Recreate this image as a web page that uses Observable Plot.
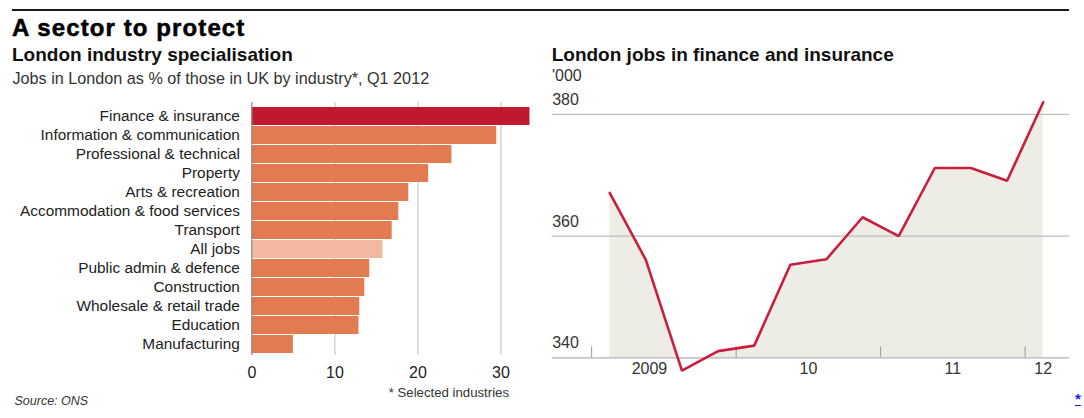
<!DOCTYPE html>
<html>
<head>
<meta charset="utf-8">
<script src="https://cdn.jsdelivr.net/npm/d3@7"></script>
<script src="https://cdn.jsdelivr.net/npm/@observablehq/plot@0.6"></script>
<style>
  html, body { margin: 0; padding: 0; background: #fff; }
  #wrap { position: relative; width: 1084px; height: 418px; overflow: hidden; font-family: "Liberation Sans", Arial, sans-serif; color: #222; }
  .t { position: absolute; white-space: nowrap; line-height: 1; }
  #rule { position: absolute; left: 12px; top: 8.5px; width: 1057px; height: 2.3px; background: #1a1a1a; }
  #title { left: 12px; top: 15.5px; font-size: 24px; font-weight: 700; letter-spacing: 1.1px; -webkit-text-stroke: 0.5px #000; color: #000; }
  .sub { top: 45px; font-size: 19px; font-weight: 700; color: #111; }
  #desc { left: 12.5px; top: 69.6px; font-size: 16.2px; color: #333; }
  #unit { left: 552px; top: 68.2px; font-size: 16px; color: #333; }
  #source { left: 14.5px; top: 394.8px; font-size: 12.5px; font-style: italic; color: #333; }
  #note { right: 575px; top: 385.6px; font-size: 13.2px; color: #333; }
  #star { left: 1075px; top: 391px; font-size: 15px; font-weight: 700; color: #1a1aff; text-decoration: underline; }
  #left { position: absolute; left: 0; top: 95px; }
  #right { position: absolute; left: 540px; top: 90px; }
</style>
</head>
<body>
<div id="wrap">
  <div id="rule"></div>
  <div class="t" id="title">A sector to protect</div>
  <div class="t sub" style="left:12px">London industry specialisation</div>
  <div class="t" id="desc">Jobs in London as % of those in UK by industry*, Q1 2012</div>
  <div class="t sub" style="left:551.7px">London jobs in finance and insurance</div>
  <div class="t" id="unit">'000</div>
  <div class="t" id="source">Source: ONS</div>
  <div class="t" id="note">* Selected industries</div>
  <div class="t" id="star">*</div>
  <div id="left"></div>
  <div id="right"></div>
</div>
<script>
// ---- Left chart data: London jobs as % of UK, Q1 2012 ----
const industries = [
  "Finance & insurance",
  "Information & communication",
  "Professional & technical",
  "Property",
  "Arts & recreation",
  "Accommodation & food services",
  "Transport",
  "All jobs",
  "Public admin & defence",
  "Construction",
  "Wholesale & retail trade",
  "Education",
  "Manufacturing"
];
const shares = [33.5, 29.5, 24.1, 21.3, 18.9, 17.7, 16.9, 15.8, 14.2, 13.6, 13.0, 12.9, 5.0];
const highlighted = "Finance & insurance";
const benchmark = "All jobs";
const shareTicks = [0, 10, 20, 30];

// ---- Right chart data: London finance & insurance jobs ('000), quarterly ----
const quarters = ["2009 Q1","2009 Q2","2009 Q3","2009 Q4","2010 Q1","2010 Q2","2010 Q3","2010 Q4","2011 Q1","2011 Q2","2011 Q3","2011 Q4","2012 Q1"];
const jobs = [367.1, 356.1, 337.9, 341.1, 342.0, 355.3, 356.2, 363.1, 360.0, 371.2, 371.2, 369.1, 382.0];
const yearTicks = [2009, 2010, 2011, 2012];
const yearLabels = ["2009", "10", "11", "12"];
const yearLabelPos = [2009.40, 2010.50, 2011.50, 2012.125];
const jobTicks = [340, 360, 380];

const barData = industries.map((name, i) => ({name, value: shares[i]}));
const barColor = d => d.name === highlighted ? "#c0182f" : d.name === benchmark ? "#f2b9a0" : "#e27b50";

const font = '"Liberation Sans", Arial, sans-serif';

const left = Plot.plot({
  width: 540,
  height: 290,
  marginTop: 7,
  marginBottom: 30,
  marginLeft: 251.4,
  marginRight: 6.4,
  style: {fontFamily: font, color: "#222", background: "transparent", overflow: "visible"},
  x: {domain: [0, 34]},
  y: {domain: industries, paddingInner: 0.07, paddingOuter: 0, insetTop: 5, insetBottom: 1.7},
  marks: [
    Plot.ruleX(shareTicks.filter(d => d > 0), {stroke: "#c9c9c9", strokeWidth: 1.2}),
    Plot.barX(barData, {y: "name", x: "value", fill: barColor}),
    Plot.ruleX([0], {stroke: "#8a8a8a", strokeWidth: 1.2}),
    Plot.axisY({tickSize: 0, tickPadding: 12, fontSize: 15.4, label: null, fill: "#222"}),
    Plot.axisX({ticks: shareTicks, tickSize: 0, tickPadding: 11, fontSize: 16, label: null, fill: "#222"})
  ]
});
document.getElementById("left").appendChild(left);

const lineData = quarters.map((q, i) => {
  const [yr, qq] = q.split(" Q");
  return {t: +yr + (+qq - 0.5) / 4, v: jobs[i]};
});
const labelData = yearLabels.map((s, i) => ({s, x: yearLabelPos[i]}));

const right = Plot.plot({
  width: 544,
  height: 300,
  marginTop: 5.7,
  marginBottom: 32.7,
  marginLeft: 11.7,
  marginRight: 15,
  style: {fontFamily: font, color: "#333", background: "transparent", overflow: "visible"},
  x: {domain: [2008.727, 2012.307], axis: null},
  y: {domain: [340, 383], axis: null},
  marks: [
    Plot.areaY(lineData, {x: "t", y1: 340, y2: "v", fill: "#eeede5", clip: true}),
    Plot.ruleY(jobTicks.filter(d => d > 340), {stroke: "#bdbdbd", strokeWidth: 1.3}),
    Plot.ruleY([340], {stroke: "#b0b0b0", strokeWidth: 1.3}),
    Plot.ruleX(yearTicks, {x: d => d, y1: 340, y2: 340, insetTop: -11, stroke: "#999", strokeWidth: 1}),
    Plot.text(jobTicks, {y: d => d, frameAnchor: "left", textAnchor: "start", lineAnchor: "bottom", dy: -9.5, text: d => String(d), fontSize: 16, fill: "#333"}),
    Plot.text(labelData, {x: "x", y: 340, text: "s", lineAnchor: "top", dy: 4.7, fontSize: 16, fill: "#333"}),
    Plot.lineY(lineData, {x: "t", y: "v", stroke: "#c8203c", strokeWidth: 2.6, strokeLinejoin: "miter"})
  ]
});
document.getElementById("right").appendChild(right);
</script>
</body>
</html>
